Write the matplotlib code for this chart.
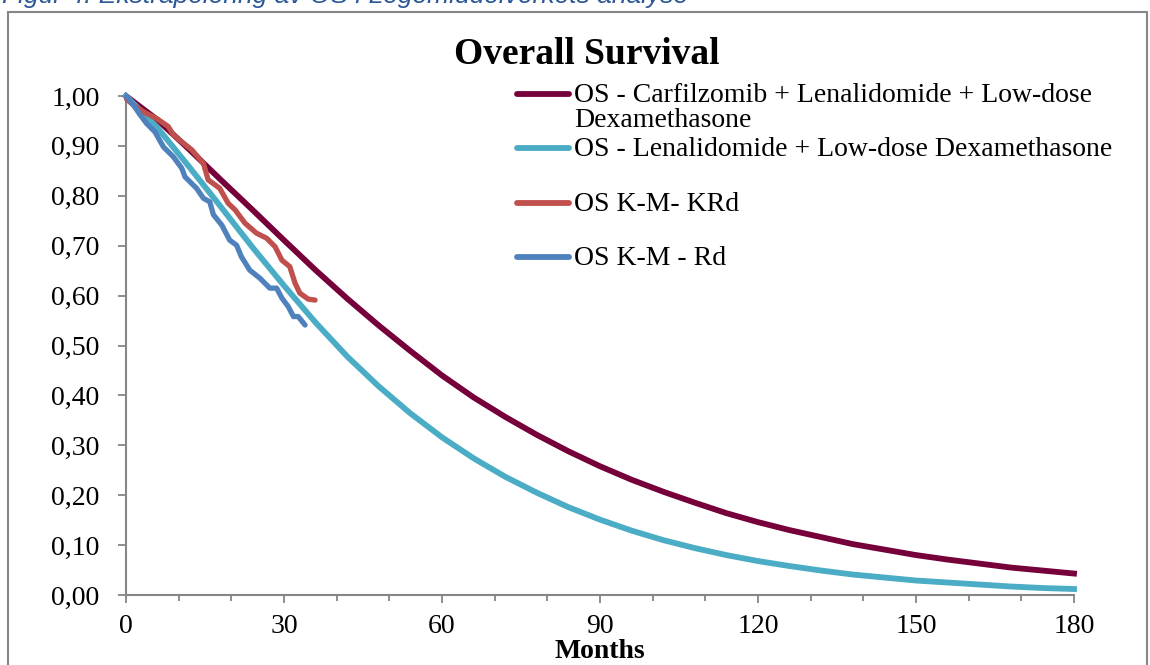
import numpy as np
import matplotlib.pyplot as plt
from matplotlib.lines import Line2D
from matplotlib.patches import Rectangle
from matplotlib.ticker import MultipleLocator

plt.rcParams['font.family'] = ['Liberation Serif', 'DejaVu Serif']

# extrapolated OS curves, every 6 months
months = [0, 6, 12, 18, 24, 30, 36, 42, 48, 54, 60, 66, 72, 78, 84, 90,
          96, 102, 108, 114, 120, 126, 132, 138, 144, 150, 156, 162, 168, 174, 180]
os_krd = [1.000, 0.952, 0.893, 0.832, 0.772, 0.711, 0.651, 0.594, 0.540, 0.489,
          0.440, 0.396, 0.357, 0.321, 0.288, 0.258, 0.231, 0.207, 0.185, 0.164,
          0.146, 0.130, 0.116, 0.102, 0.091, 0.080, 0.071, 0.063, 0.055, 0.049, 0.043]
os_rd = [1.000, 0.936, 0.858, 0.778, 0.697, 0.620, 0.546, 0.478, 0.418, 0.364,
         0.316, 0.274, 0.237, 0.205, 0.176, 0.151, 0.129, 0.110, 0.094, 0.080,
         0.068, 0.058, 0.049, 0.041, 0.035, 0.029, 0.025, 0.021, 0.017, 0.014, 0.012]

# Kaplan-Meier curves
km_krd_t = [0.1, 1.7, 3.9, 5.8, 8.0, 9.0, 10.6, 12.5, 14.7, 15.6, 17.8, 19.4, 20.7,
            22.6, 24.8, 26.7, 28.3, 29.6, 31.1, 32.1, 33.0, 34.6, 35.9]
km_krd_s = [0.994, 0.979, 0.965, 0.955, 0.939, 0.922, 0.908, 0.892, 0.865, 0.832, 0.815,
            0.785, 0.772, 0.745, 0.725, 0.715, 0.698, 0.671, 0.658, 0.625, 0.605, 0.593, 0.591]
km_rd_t = [0.1, 1.4, 2.7, 3.9, 5.5, 7.1, 9.0, 10.6, 11.2, 13.4, 14.7, 15.9, 16.6, 18.2,
           19.7, 21.0, 21.9, 23.5, 25.4, 27.3, 28.6, 29.6, 30.8, 31.8, 32.7, 34.0]
km_rd_s = [0.999, 0.982, 0.962, 0.945, 0.928, 0.898, 0.878, 0.855, 0.838, 0.815, 0.795,
           0.788, 0.762, 0.741, 0.711, 0.701, 0.678, 0.651, 0.635, 0.615, 0.615, 0.595,
           0.578, 0.558, 0.558, 0.541]

labels = ['OS - Carfilzomib + Lenalidomide + Low-dose\nDexamethasone',
          'OS - Lenalidomide + Low-dose Dexamethasone',
          'OS K-M- KRd',
          'OS K-M - Rd']
colors = ['#76003A', '#4BACC6', '#C0504D', '#4F81BD']

yticks = [0.0, 0.1, 0.2, 0.3, 0.4, 0.5, 0.6, 0.7, 0.8, 0.9, 1.0]
ylabels = ['0,00', '0,10', '0,20', '0,30', '0,40', '0,50', '0,60', '0,70', '0,80', '0,90', '1,00']
xticks = [0, 30, 60, 90, 120, 150, 180]

fig = plt.figure(figsize=(11.5, 6.65), dpi=100)
ax = fig.add_axes([126/1150, 70/665, 948/1150, 499/665])

lw = 4.2
ax.plot(months, os_krd, color=colors[0], lw=lw, clip_on=False, zorder=3)
ax.plot(months, os_rd, color=colors[1], lw=lw, clip_on=False, zorder=3)
ax.plot(km_krd_t, km_krd_s, color=colors[2], lw=3.8, clip_on=False,
        solid_capstyle='round', solid_joinstyle='round', zorder=4)
ax.plot(km_rd_t, km_rd_s, color=colors[3], lw=3.8, clip_on=False,
        solid_capstyle='round', solid_joinstyle='round', zorder=5)

ax.set_xlim(0, 180)
ax.set_ylim(0, 1.0)
ax.set_xticks(xticks)
ax.xaxis.set_minor_locator(MultipleLocator(10))
ax.set_yticks(yticks)
ax.set_yticklabels(ylabels)

grey = '#868686'
for s in ['top', 'right']:
    ax.spines[s].set_visible(False)
for s in ['left', 'bottom']:
    ax.spines[s].set_color(grey)
    ax.spines[s].set_linewidth(1.5)
ax.tick_params(axis='both', which='major', direction='out', length=6, width=1.3,
               color=grey, labelsize=20)
ax.tick_params(axis='x', which='major', pad=8)
ax.tick_params(axis='x', which='minor', direction='out', length=4, width=1.3, color=grey)
ax.tick_params(axis='y', pad=13)

ax.set_xlabel('Months', fontsize=20, fontweight='bold', labelpad=0)
fig.text(587/1150, 1 - 54/665, 'Overall Survival', fontsize=27, fontweight='bold',
         ha='center', va='center')

# legend drawn by hand to keep the Excel spacing
leg_y = [94, 148, 203, 257]
for lab, c, yy in zip(labels, colors, leg_y):
    fy = 1 - yy / 665
    fig.add_artist(Line2D([517/1150, 569/1150], [fy, fy], color=c, lw=4.2,
                          solid_capstyle='round'))
    fig.text(574/1150, fy + 11/665, lab, fontsize=20, ha='left', va='top',
             linespacing=1.02)

# caption (cut at the top) and frame
fig.text(2/1150, 1 - 3/665, 'Figur 4: Ekstrapolering av OS i Legemiddelverkets analyse',
         fontsize=19, style='italic', color='#2B5797', family='Liberation Sans',
         ha='left', va='baseline')
fig.add_artist(Rectangle((8/1150, -0.05), 1139/1150, 1.05 - 12/665,
                         fill=False, edgecolor=grey, lw=1.5))

fig.savefig('out.png', dpi=100)
